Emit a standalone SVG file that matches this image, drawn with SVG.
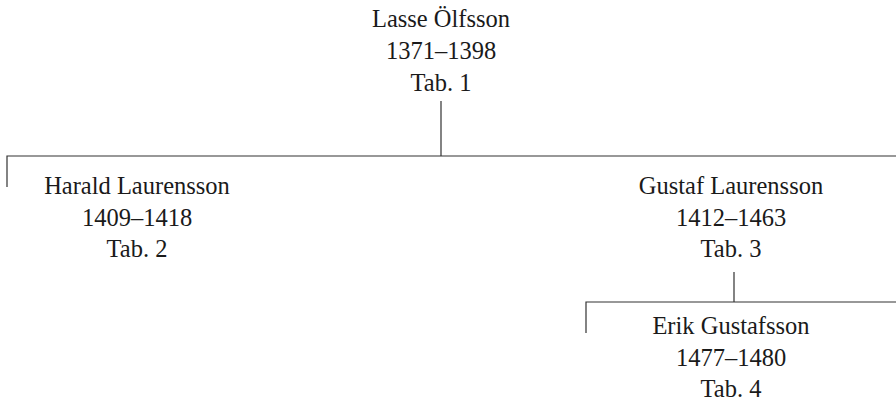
<svg xmlns="http://www.w3.org/2000/svg" width="896" height="402" viewBox="0 0 896 402">
<style>
text{font-family:"Liberation Serif","Times New Roman",serif;font-size:24.5px;fill:#1a1a1a;text-anchor:middle}
.c{stroke:#333;stroke-width:1.2;fill:none}
</style>
<rect width="896" height="402" fill="#fff"/>
<g id="connectors">
<path class="c" d="M441 101V156M7 187V156H897"/>
<path class="c" d="M734 272V302M586 333V302H897"/>
</g>
<g id="n1"><text x="441" y="27">Lasse Ölfsson</text><text x="441" y="59">1371–1398</text><text x="441" y="91">Tab. 1</text></g>
<g id="n2"><text x="137" y="194">Harald Laurensson</text><text x="137" y="226">1409–1418</text><text x="137" y="257">Tab. 2</text></g>
<g id="n3"><text x="731" y="194">Gustaf Laurensson</text><text x="731" y="226">1412–1463</text><text x="731" y="257">Tab. 3</text></g>
<g id="n4"><text x="731" y="334">Erik Gustafsson</text><text x="731" y="366">1477–1480</text><text x="731" y="397">Tab. 4</text></g>
</svg>
